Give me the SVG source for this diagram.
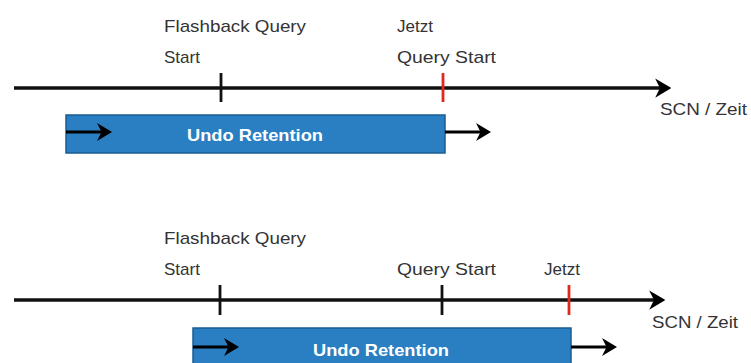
<svg xmlns="http://www.w3.org/2000/svg" width="751" height="363" viewBox="0 0 751 363">
<style>
.lbl{font-family:"Liberation Sans",Arial,sans-serif;font-size:17px;fill:#333}
.box{fill:#2a7fc3;stroke:#1b5c92;stroke-width:1.5}
.btxt{font-family:"Liberation Sans",Arial,sans-serif;font-size:17px;font-weight:bold;fill:#fff;text-anchor:middle}
.axis{stroke:#111;stroke-width:3.5;fill:none}
.tick{stroke:#111;stroke-width:2.8}
.red{stroke:#e0281e;stroke-width:2.8}
.arr{stroke:#000;stroke-width:3;fill:none}
</style>
<defs>
<marker id="ah" viewBox="0 0 10 12" refX="8" refY="6" markerWidth="4.6" markerHeight="5.5" orient="auto" markerUnits="strokeWidth">
<path d="M0,0 L10,6 L0,12 L3,6 z" fill="#000"/>
</marker>
<marker id="ah2" viewBox="0 0 10 12" refX="8" refY="6" markerWidth="5" markerHeight="6" orient="auto" markerUnits="strokeWidth">
<path d="M0,0 L10,6 L0,12 L3,6 z" fill="#000"/>
</marker>
</defs>
<g id="scenario1">
<g id="labels1">
<text class="lbl" x="164" y="32" textLength="142" lengthAdjust="spacingAndGlyphs">Flashback Query</text>
<text class="lbl" x="164" y="63">Start</text>
<text class="lbl" x="397" y="32">Jetzt</text>
<text class="lbl" x="397" y="63" textLength="99" lengthAdjust="spacingAndGlyphs">Query Start</text>
<text class="lbl" x="660" y="115" textLength="87" lengthAdjust="spacingAndGlyphs">SCN / Zeit</text>
</g>
<g id="box1">
<rect class="box" x="66" y="115" width="379" height="38"/>
<text class="btxt" x="255" y="141" textLength="136" lengthAdjust="spacingAndGlyphs">Undo Retention</text>
</g>
</g>
<g id="scenario2">
<g id="labels2">
<text class="lbl" x="164" y="244" textLength="142" lengthAdjust="spacingAndGlyphs">Flashback Query</text>
<text class="lbl" x="164" y="275">Start</text>
<text class="lbl" x="397" y="275" textLength="99" lengthAdjust="spacingAndGlyphs">Query Start</text>
<text class="lbl" x="544" y="275">Jetzt</text>
<text class="lbl" x="652" y="328" textLength="86" lengthAdjust="spacingAndGlyphs">SCN / Zeit</text>
</g>
<g id="box2">
<rect class="box" x="193" y="328" width="378" height="40"/>
<text class="btxt" x="381" y="356" textLength="136" lengthAdjust="spacingAndGlyphs">Undo Retention</text>
</g>
</g>
<g id="connectors">
<line class="axis" x1="14" y1="88" x2="668" y2="88" marker-end="url(#ah)"/>
<line class="tick" x1="221" y1="73" x2="221" y2="102"/>
<line class="red" x1="443" y1="73" x2="443" y2="102"/>
<line class="arr" x1="66" y1="132" x2="109" y2="132" marker-end="url(#ah2)"/>
<line class="arr" x1="445" y1="132" x2="488" y2="132" marker-end="url(#ah2)"/>
<line class="axis" x1="14" y1="300" x2="662" y2="300" marker-end="url(#ah)"/>
<line class="tick" x1="220" y1="285" x2="220" y2="315"/>
<line class="tick" x1="442" y1="285" x2="442" y2="315"/>
<line class="red" x1="569" y1="285" x2="569" y2="315"/>
<line class="arr" x1="193" y1="347" x2="236" y2="347" marker-end="url(#ah2)"/>
<line class="arr" x1="571" y1="347" x2="614" y2="347" marker-end="url(#ah2)"/>
</g>
</svg>
